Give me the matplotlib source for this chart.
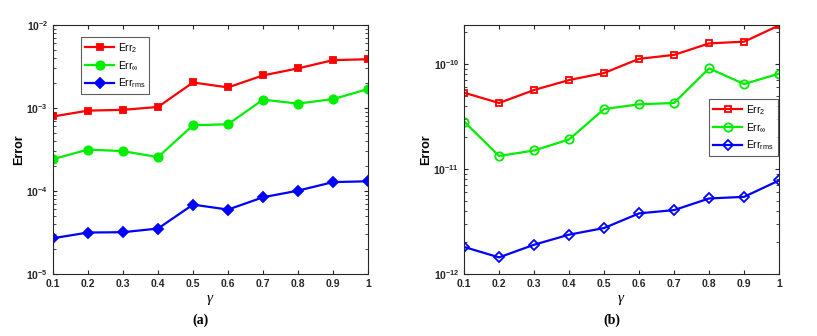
import matplotlib
matplotlib.use("Agg")
import matplotlib.pyplot as plt
from matplotlib.ticker import NullFormatter

plt.rcParams['font.family'] = ['Liberation Sans', 'DejaVu Sans']
plt.rcParams['mathtext.fontset'] = 'custom'
plt.rcParams['mathtext.rm'] = 'Liberation Sans'
plt.rcParams['mathtext.it'] = 'Liberation Serif:italic'
plt.rcParams['mathtext.bf'] = 'Liberation Sans:bold'

gamma = [0.1, 0.2, 0.3, 0.4, 0.5, 0.6, 0.7, 0.8, 0.9, 1.0]

# Panel (a)
a_err2 = [7.9e-4, 9.3e-4, 9.5e-4, 1.03e-3, 2.03e-3, 1.77e-3, 2.47e-3, 3.0e-3, 3.77e-3, 3.87e-3]
a_errinf = [2.42e-4, 3.16e-4, 3.02e-4, 2.56e-4, 6.2e-4, 6.37e-4, 1.26e-3, 1.13e-3, 1.28e-3, 1.69e-3]
a_errrms = [2.7e-5, 3.16e-5, 3.19e-5, 3.53e-5, 6.86e-5, 5.97e-5, 8.4e-5, 1.01e-4, 1.28e-4, 1.31e-4]

# Panel (b)
b_err2 = [5.33e-11, 4.25e-11, 5.65e-11, 7.03e-11, 8.2e-11, 1.12e-10, 1.22e-10, 1.57e-10, 1.63e-10, 2.33e-10]
b_errinf = [2.83e-11, 1.33e-11, 1.5e-11, 1.91e-11, 3.72e-11, 4.13e-11, 4.25e-11, 9.08e-11, 6.44e-11, 8.09e-11]
b_errrms = [1.81e-12, 1.44e-12, 1.9e-12, 2.37e-12, 2.74e-12, 3.78e-12, 4.06e-12, 5.24e-12, 5.43e-12, 7.78e-12]

labels = [r'Err$_{2}$', r'Err$_{\infty}$', r'Err$_{\rm rms}$']
colors = ['#ff0000', '#00ee00', '#0000ff']
markers = ['s', 'o', 'D']
msizes = [5, 6, 5]

fig = plt.figure(figsize=(8.17, 3.36), dpi=100)
axa = fig.add_axes([0.0649, 0.1845, 0.3855, 0.7411])
axb = fig.add_axes([0.568, 0.1845, 0.3856, 0.7411])

for ax, series, filled in [(axa, [a_err2, a_errinf, a_errrms], True),
                           (axb, [b_err2, b_errinf, b_errrms], False)]:
    for s, c, m, ms, lab in zip(series, colors, markers, msizes, labels):
        ax.semilogy(gamma, s, color=c, marker=m, markersize=ms,
                    linewidth=1.6, label=lab,
                    markerfacecolor=c if filled else 'none',
                    markeredgecolor=c, markeredgewidth=1.3)
    ax.set_xlim(0.1, 1.0)
    ax.set_xticks(gamma)
    ax.set_xticklabels(['0.1', '0.2', '0.3', '0.4', '0.5', '0.6', '0.7', '0.8', '0.9', '1'])
    ax.yaxis.set_minor_formatter(NullFormatter())
    ax.tick_params(axis='both', which='both', direction='in', top=True, right=True,
                   labelsize=7.5, colors='#262626')
    ax.tick_params(which='major', length=3)
    ax.tick_params(which='minor', length=2)
    for lbl in ax.get_xticklabels() + ax.get_yticklabels():
        lbl.set_fontweight('bold')
    for sp in ax.spines.values():
        sp.set_color('#262626')
        sp.set_linewidth(0.8)
    ax.set_ylabel('Error', fontsize=9, fontweight='bold', labelpad=1)
    ax.set_xlabel(r'$\gamma$', fontsize=11, labelpad=3)

axa.set_ylim(1e-5, 1e-2)
axb.set_ylim(1e-12, 2.35e-10)

leg_kw = dict(fontsize=7.5, frameon=True, fancybox=False, edgecolor='#333333',
              handlelength=2.8, borderpad=0.4, labelspacing=0.45, handletextpad=0.3,
              borderaxespad=0)
leg_a = axa.legend(loc='upper left', bbox_to_anchor=(0.089, 0.952), **leg_kw)
leg_a.get_frame().set_linewidth(0.8)
leg_b = axb.legend(loc='upper left', bbox_to_anchor=(0.778, 0.703), **leg_kw)
leg_b.get_frame().set_linewidth(0.8)

fig.text(0.245, 0.035, '(a)', fontsize=10, fontweight='bold', family='Liberation Serif', ha='center')
fig.text(0.749, 0.035, '(b)', fontsize=10, fontweight='bold', family='Liberation Serif', ha='center')

fig.savefig('out.png', dpi=100)
